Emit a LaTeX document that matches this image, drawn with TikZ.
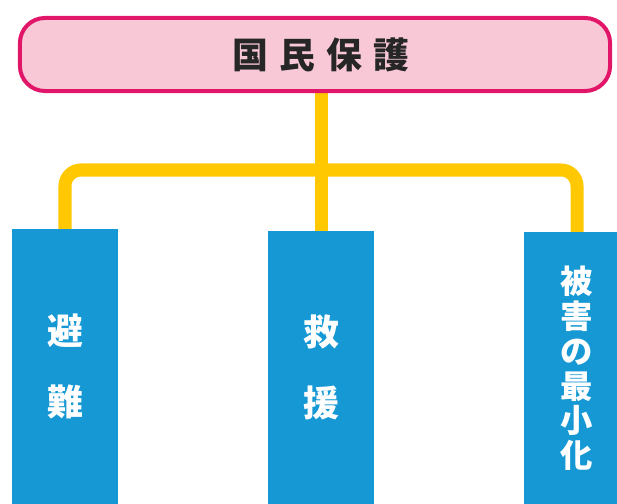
\documentclass[tikz,border=0pt]{standalone}
\usepackage{fontspec}
\usetikzlibrary{backgrounds}
\newfontfamily\jpfont{Noto Sans CJK JP}
\definecolor{headfill}{RGB}{248,200,214}
\definecolor{headline}{RGB}{226,22,104}
\definecolor{branchyellow}{RGB}{255,200,0}
\definecolor{pillarblue}{RGB}{22,152,212}

\begin{document}
\begin{tikzpicture}[x=0.025cm, y=-0.025cm,
  headbox/.style={draw=headline, fill=headfill, line width=1mm,
    rounded corners=6.25mm, minimum width=147.5mm, minimum height=18.25mm,
    inner sep=0pt},
  headtext/.style={inner sep=0pt, text=black!85,
    font=\jpfont\bfseries\fontsize{25.5}{25.5}\selectfont},
  pillar/.style={fill=pillarblue, minimum width=26.5mm, inner sep=0pt,
    anchor=north, text=white, align=center},
  branch/.style={draw=branchyellow, line width=3.25mm, rounded corners=4mm}]
%\draw[help lines, step=50] (0,0) grid (617,504);

\pgfmathsetmacro\hubY{170};
\pgfmathsetmacro\charGap{2.75};

\useasboundingbox (0,0) rectangle (617,504);

% top box
\node[headbox] (protect) at (315,54.5) {};

% pillars
\node[pillar, minimum height=68.75mm,
  font=\jpfont\bfseries\fontsize{25.5}{25.5}\selectfont]
  (evac) at (65,229) {避\\[8.8mm]難};
\node[pillar, minimum height=68.25mm,
  font=\jpfont\bfseries\fontsize{25.5}{25.5}\selectfont]
  (rescue) at (321,231) {救\\[8.8mm]援};
\node[pillar, minimum height=68mm,
  font=\jpfont\bfseries\fontsize{23}{24.8}\selectfont]
  (harm) at (577,232) {被\\害\\の\\最\\小\\化};

% title
\coordinate (hubline) at (0,\hubY);
\coordinate (hub) at (rescue.north |- hubline);
\node[headtext] (protecttext) at (hub |- protect)
  {国\hspace{\charGap mm}民\hspace{\charGap mm}保\hspace{\charGap mm}護};

% branches
\begin{scope}[on background layer]
\draw[branch] (protect.south -| hub) -- (rescue.north);
\draw[branch] (hub) -| (evac.north);
\draw[branch] (hub) -| (harm.north);
\end{scope}

\end{tikzpicture}
\end{document}
